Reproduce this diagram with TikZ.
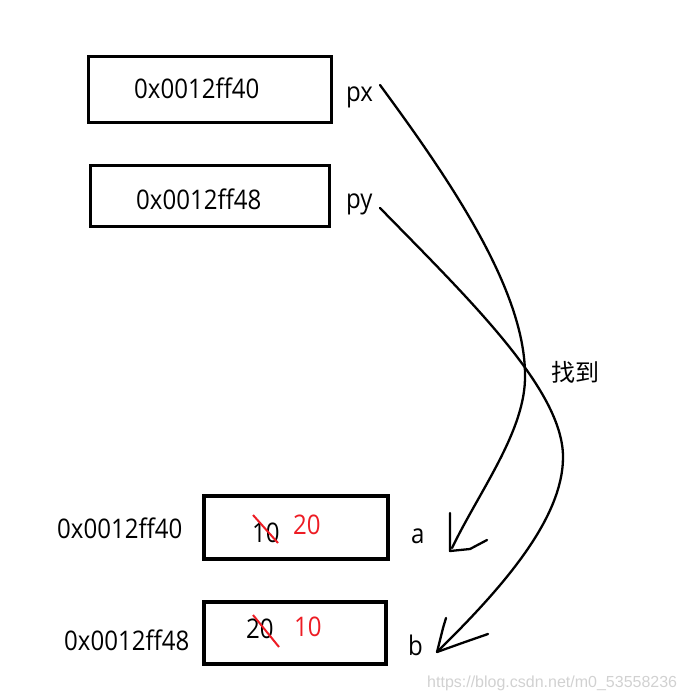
\documentclass[tikz,border=0pt]{standalone}
\usepackage{fontspec}
\setmainfont{Open Sans}[FakeStretch=0.89]
\newfontfamily\cjkfont{Noto Sans CJK SC}
\newfontfamily\wmfont{Liberation Sans}
\definecolor{paintred}{RGB}{237,28,36}
\begin{document}
\begin{tikzpicture}[x=1pt,y=-1pt,
  topbox/.style={draw, line width=3pt, inner sep=0},
  botbox/.style={draw, line width=4.3pt, inner sep=0},
  txt/.style={font=\fontsize{27}{32}\selectfont, inner sep=0, anchor=base west},
  redtxt/.style={txt, text=paintred},
  strike/.style={draw=paintred, line width=2pt},
  curve/.style={draw, line width=2.3pt, line join=round, line cap=round}]
\useasboundingbox (0,0) rectangle (683,700);
% pointer cells
\node[topbox, minimum width=243pt, minimum height=66pt] (m1) at (210,89.5) {};
\node[txt] (m1t) at (134,99) {0x0012ff40};
\node[topbox, minimum width=239pt, minimum height=61pt] (m2) at (210,196) {};
\node[txt] (m2t) at (136,210) {0x0012ff48};
\node[txt] (px) at (346,102) {px};
\node[txt] (py) at (346,209) {py};
% value cells
\node[botbox, minimum width=184pt, minimum height=63pt] (a) at (296,527.5) {};
\node[botbox, minimum width=182pt, minimum height=62pt] (b) at (295,633) {};
\node[txt] (aaddr) at (57,538) {0x0012ff40};
\node[txt] (baddr) at (64,650) {0x0012ff48};
\node[txt] (aold) at (252,542) {10};
\node[redtxt] (anew) at (293,534) {20};
\node[txt] (bold) at (246,638) {20};
\node[redtxt] (bnew) at (294,636) {10};
\coordinate (sa1) at (253,515); \coordinate (sa2) at (278,543);
\coordinate (sb1) at (253,615); \coordinate (sb2) at (279,647);
\draw[strike] (sa1) -- (sa2);
\draw[strike] (sb1) -- (sb2);
\node[txt] (la) at (411,543) {a};
\node[txt] (lb) at (408,655) {b};
\node[font=\cjkfont\fontsize{24}{28}\selectfont, inner sep=0] (found) at (575,372) {找到};
% curves
\coordinate (sx) at (380,85);
\coordinate (mx) at (525,375);
\coordinate (tipA) at (452,548);
\draw[curve] (sx) .. controls (450,180) and (525,290) .. (mx) .. controls (526,430) and (480,490) .. (tipA);
\coordinate (ha1) at (450,513); \coordinate (ha2) at (450,551);
\coordinate (ha3) at (470,549); \coordinate (ha4) at (487,540);
\draw[curve] (ha1) -- (ha2) -- (ha3) -- (ha4);
\coordinate (sy) at (380,208);
\coordinate (my) at (563,457);
\coordinate (tipB) at (437,652);
\draw[curve] (sy) .. controls (470,300) and (563,390) .. (my) .. controls (563,520) and (500,590) .. (tipB);
\coordinate (hb1) at (446,618); \coordinate (hb2) at (443,628);
\coordinate (hb3) at (465,642); \coordinate (hb4) at (488,634);
\draw[curve] (hb1) -- (hb2) -- (tipB) -- (hb3) -- (hb4);
% watermark
\node[font=\wmfont\fontsize{16}{18}\selectfont, text=black!18, inner sep=0, anchor=base west] (wm) at (427,687) {https://blog.csdn.net/m0\_53558236};
\end{tikzpicture}
\end{document}
